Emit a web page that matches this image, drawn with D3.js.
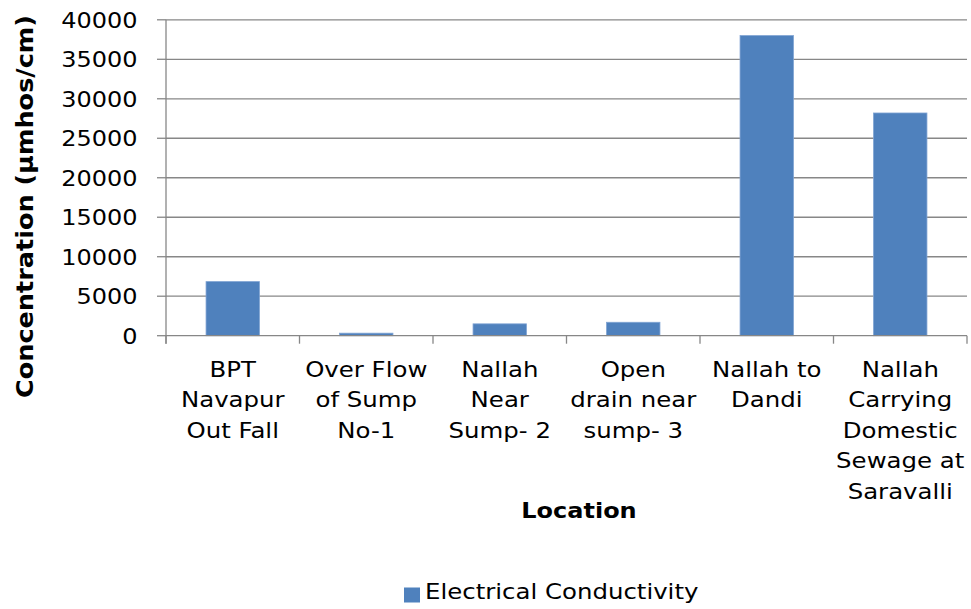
<!DOCTYPE html>
<html>
<head>
<meta charset="utf-8">
<script src="https://cdn.jsdelivr.net/npm/d3@7"></script>
<style>
  html, body { margin: 0; padding: 0; background: #fff; }
  svg { display: block; font-family: "DejaVu Sans", Verdana, sans-serif; }
</style>
</head>
<body>
<script>
const categories = [
  "BPT\nNavapur\nOut Fall",
  "Over Flow\nof Sump\nNo-1",
  "Nallah\nNear\nSump- 2",
  "Open\ndrain near\nsump- 3",
  "Nallah to\nDandi",
  "Nallah\nCarrying\nDomestic\nSewage at\nSaravalli"
];
const seriesName = "Electrical Conductivity";
const values = [6850, 320, 1500, 1700, 38000, 28200];
const yTicks = [0, 5000, 10000, 15000, 20000, 25000, 30000, 35000, 40000];
const xTitle = "Location";
const yTitle = "Concentration (µmhos/cm)";

const W = 971, H = 609;
const SX = 1.11;          // horizontal text stretch of the reference
const FS = 22;
const plot = { left: 166, right: 967, top: 19.8, bottom: 335.7 };
const barColor = "#4F81BD";
const gridColor = "#878787";

const svg = d3.select("body").append("svg").attr("width", W).attr("height", H);

const x = d3.scaleBand().domain(categories).range([plot.left, plot.right])
  .paddingInner(0.6).paddingOuter(0.3);
const xb = d3.scaleBand().domain(categories).range([plot.left, plot.right]);
const y = d3.scaleLinear().domain([0, 40000]).range([plot.bottom, plot.top]);

function sText(g, px, py, str, anchor, opts = {}) {
  return g.append("text")
    .attr("transform", `translate(${px},${py}) scale(${opts.sx || SX},1)`)
    .attr("text-anchor", anchor)
    .attr("font-size", opts.size || FS)
    .attr("font-weight", opts.weight || "normal")
    .attr("fill", "#000")
    .text(str);
}

// gridlines
svg.append("g").selectAll("line").data(yTicks.filter(d => d > 0)).join("line")
  .attr("x1", plot.left).attr("x2", plot.right)
  .attr("y1", d => y(d)).attr("y2", d => y(d))
  .attr("stroke", gridColor).attr("stroke-width", 1.3);

// bars
svg.append("g").selectAll("rect").data(values).join("rect")
  .attr("x", (d, i) => x(categories[i]))
  .attr("width", x.bandwidth())
  .attr("y", d => y(d))
  .attr("height", d => y(0) - y(d))
  .attr("fill", barColor)
  .attr("stroke", "#7fa3d3").attr("stroke-width", 0.8);

// y axis
const yAxisG = svg.append("g");
yAxisG.append("line").attr("x1", plot.left).attr("x2", plot.left)
  .attr("y1", plot.top).attr("y2", plot.bottom + 8)
  .attr("stroke", gridColor).attr("stroke-width", 1.3);
yAxisG.selectAll("line.tk").data(yTicks).join("line").attr("class", "tk")
  .attr("x1", plot.left - 9).attr("x2", plot.left)
  .attr("y1", d => y(d)).attr("y2", d => y(d))
  .attr("stroke", gridColor).attr("stroke-width", 1.3);
yTicks.forEach(t => sText(yAxisG, 137.5, y(t) + 8, String(t), "end", { size: 21.8, sx: 1.1 }));

// x axis
const xAxisG = svg.append("g");
xAxisG.append("line").attr("x1", plot.left).attr("x2", plot.right)
  .attr("y1", plot.bottom).attr("y2", plot.bottom)
  .attr("stroke", gridColor).attr("stroke-width", 1.3);
const bounds = categories.map(c => xb(c)).concat([plot.right]);
xAxisG.selectAll("line.tk").data(bounds).join("line").attr("class", "tk")
  .attr("x1", d => d).attr("x2", d => d)
  .attr("y1", plot.bottom).attr("y2", plot.bottom + 8)
  .attr("stroke", gridColor).attr("stroke-width", 1.3);
categories.forEach(c => {
  const cx = xb(c) + xb.bandwidth() / 2;
  c.split("\n").forEach((line, j) => sText(xAxisG, cx, 377 + j * 30.4, line, "middle"));
});

// axis titles
sText(svg, 579, 517.5, xTitle, "middle", { weight: "bold", size: 21.8, sx: 1.1 });
svg.append("text")
  .attr("transform", `translate(33,206.5) rotate(-90)`)
  .attr("text-anchor", "middle")
  .attr("font-size", 23)
  .attr("font-weight", "bold")
  .attr("textLength", 383).attr("lengthAdjust", "spacingAndGlyphs")
  .text(yTitle);

// legend
const lg = svg.append("g");
lg.append("rect").attr("x", 404).attr("y", 587.5).attr("width", 16).attr("height", 15).attr("fill", barColor);
sText(lg, 425, 598.5, seriesName, "start");
</script>
</body>
</html>
